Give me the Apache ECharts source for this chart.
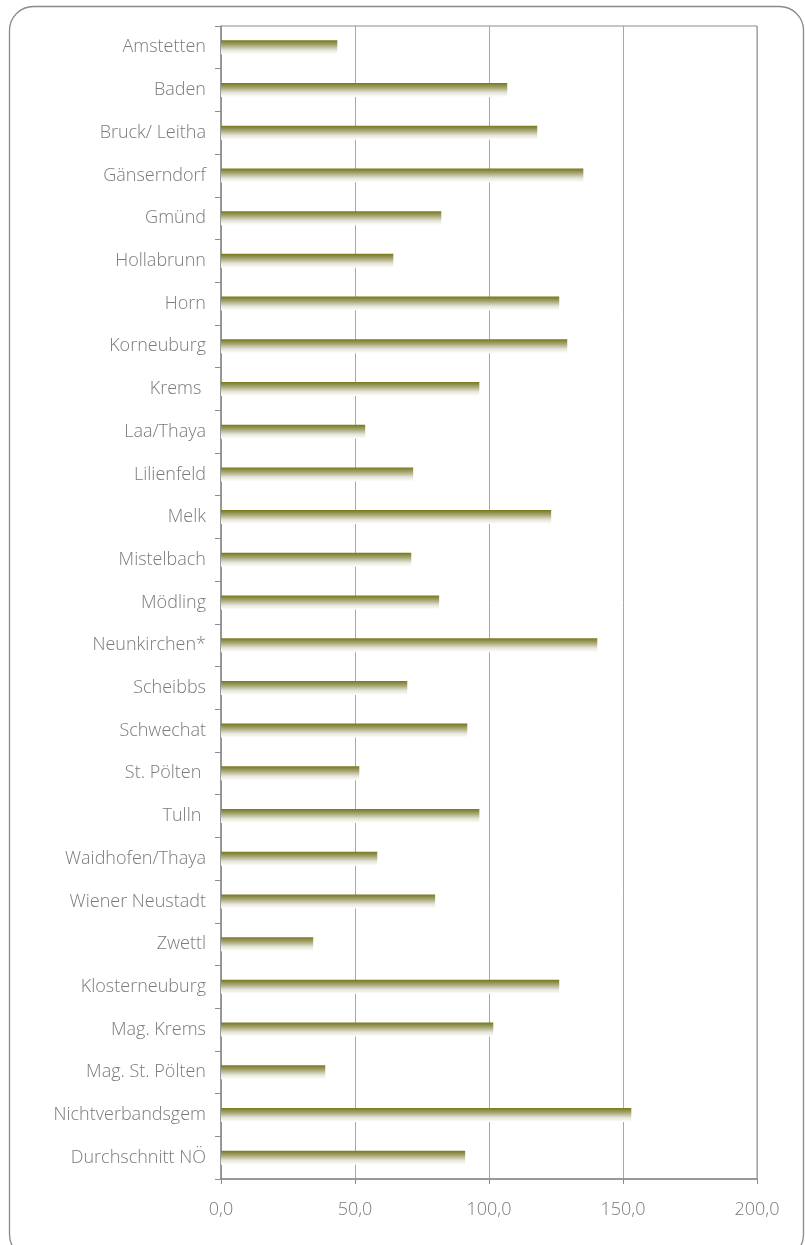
<!DOCTYPE html>
<html><head><meta charset="utf-8">
<script src="https://cdn.jsdelivr.net/npm/echarts@6/dist/echarts.min.js"></script>
<style>html,body{margin:0;padding:0;background:#fff}#c{width:805px;height:1245px}</style>
</head><body><div id="c"></div>
<script>
const categories = ["Amstetten","Baden","Bruck/ Leitha","Gänserndorf","Gmünd","Hollabrunn","Horn","Korneuburg","Krems ","Laa/Thaya","Lilienfeld","Melk","Mistelbach","Mödling","Neunkirchen*","Scheibbs","Schwechat","St. Pölten ","Tulln ","Waidhofen/Thaya","Wiener Neustadt","Zwettl","Klosterneuburg","Mag. Krems","Mag. St. Pölten","Nichtverbandsgem","Durchschnitt NÖ"];
const values = [43.4,106.8,118.0,135.2,82.2,64.3,126.2,129.2,96.4,53.8,71.7,123.2,71.0,81.4,140.4,69.5,91.9,51.6,96.4,58.3,79.9,34.4,126.2,101.6,38.9,153.1,91.1];
const xTicks = [0,50,100,150,200];

const chart = echarts.init(document.getElementById('c'));
const fontFam = '"Open Sans", Lato, sans-serif';
chart.setOption({
  animation:false,
  graphic:[{type:'rect',shape:{x:9.5,y:6.5,width:794,height:1252,r:24},style:{fill:'none',stroke:'#8a8a8a',lineWidth:1.3},silent:true,z:-1}],
  grid:{left:221,right:48,top:26,bottom:66,show:true,borderColor:'#8c8c8c',borderWidth:1},
  xAxis:{type:'value',min:xTicks[0],max:xTicks[xTicks.length-1],interval:50,
    axisLine:{show:true,lineStyle:{color:'#8c8c8c',width:1.5}},
    axisTick:{show:true,length:5,lineStyle:{color:'#8c8c8c'}},
    splitLine:{show:true,lineStyle:{color:'#a8a8a8',width:1}},
    axisLabel:{margin:22,color:'#7a7a7a',fontSize:18,fontFamily:fontFam,fontWeight:300,
      formatter:v=>v.toFixed(1).replace('.',',')}},
  yAxis:{type:'category',data:categories,inverse:true,
    axisLine:{show:true,lineStyle:{color:'#8c8c8c',width:1.5}},
    axisTick:{show:true,length:6,lineStyle:{color:'#8c8c8c'}},
    axisLabel:{margin:15,color:'#7a7a7a',fontSize:18,fontFamily:fontFam,fontWeight:300}},
  series:[{type:'bar',data:values,barWidth:14,
    itemStyle:{color:new echarts.graphic.LinearGradient(0,0,0,1,[
      {offset:0,color:'#77771a'},{offset:0.35,color:'#a8a878'},{offset:0.7,color:'#e6e6dc'},{offset:1,color:'#ffffff'}])}}]
});
</script></body></html>
